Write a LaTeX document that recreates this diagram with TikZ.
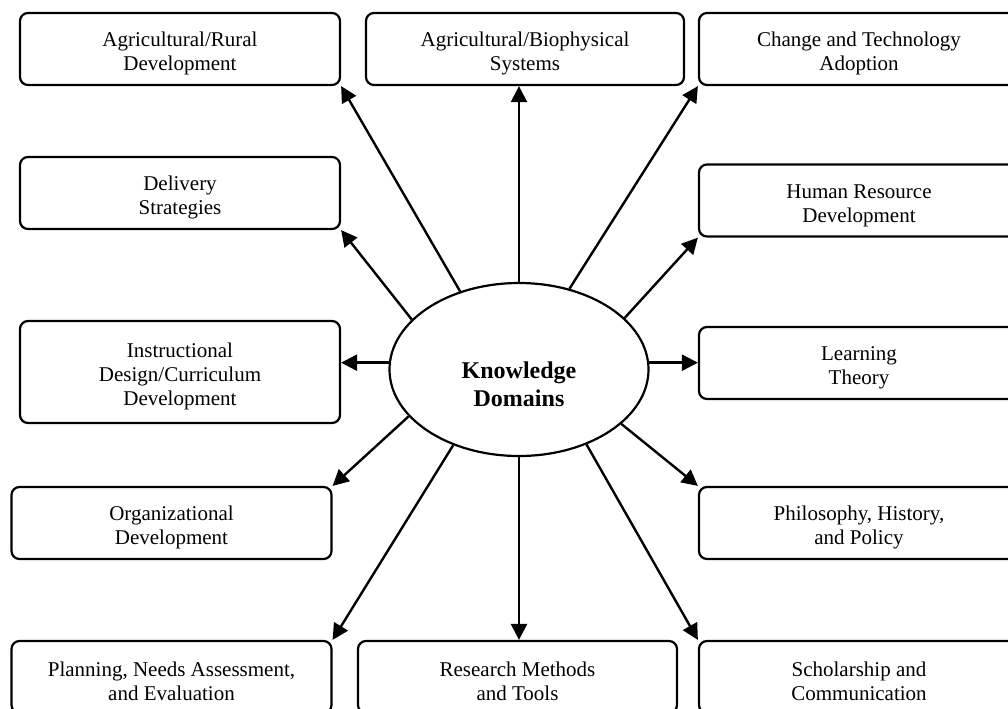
\documentclass[tikz,border=0pt]{standalone}
\usepackage{fontspec}
\setmainfont{Liberation Serif}
\usetikzlibrary{shapes.geometric,arrows.meta}
\newcommand\topgap{\rule{0pt}{12pt}}

\begin{document}
\begin{tikzpicture}
[x=0.5pt,y=-0.5pt,
 areabox/.style={draw,line width=1.1pt,rounded corners=4pt,minimum width=160pt,minimum height=36pt,inner sep=0pt,align=center,
   font=\fontsize{10.5}{12}\selectfont},
 hubnode/.style={draw,line width=1.1pt,ellipse,minimum width=129.5pt,minimum height=86.5pt,inner sep=0pt},
 spoke/.style={line width=1.2pt,-{Triangle[length=8pt,width=8pt]}}]
\useasboundingbox (0,0) rectangle (1008,708);

\node [hubnode] (kd) at (519,369.5) {};
\node [font=\fontsize{12}{14}\selectfont\bfseries,align=center] (kdtext) at (519,384) {Knowledge\\Domains};

% left column
\node [areabox] (rural) at (180,49) {\topgap Agricultural/Rural\\Development};
\node [areabox] (delivery) at (180,193) {\topgap Delivery\\Strategies};
\node [areabox,minimum height=51pt] (instr) at (180,372) {\topgap Instructional\\Design/Curriculum\\Development};
\node [areabox] (org) at (171.5,523) {\topgap Organizational\\Development};
\node [areabox] (plan) at (171.5,677) {\topgap Planning, Needs Assessment,\\and Evaluation};

% middle
\node [areabox,minimum width=159pt] (bio) at (525,49) {\topgap Agricultural/Biophysical\\Systems};
\node [areabox,minimum width=159.5pt] (res) at (517.5,677) {\topgap Research Methods\\and Tools};

% right column
\node [areabox] (change) at (859,49) {\topgap Change and Technology\\Adoption};
\node [areabox] (human) at (859,200.5) {\topgap Human Resource\\Development};
\node [areabox] (learn) at (859,363) {\topgap Learning\\Theory};
\node [areabox] (phil) at (859,523) {\topgap Philosophy, History,\\and Policy};
\node [areabox] (schol) at (859,677) {\topgap Scholarship and\\Communication};

\foreach \ang/\tgt in {127/rural.south east, 58/change.south west, 155/delivery.south east, 26/human.south west,
                       203/org.north east, 332/phil.north west, 229/plan.north east, 312/schol.north west}
  \draw [spoke] (kd.\ang) -- (\tgt);

\draw [spoke] (kd.north) -- (kd.north |- bio.south);
\draw [spoke] (kd.south) -- (kd.south |- res.north);
\draw [spoke] (kd.177) -- (kd.177 -| instr.east);
\draw [spoke] (kd.3) -- (kd.3 -| learn.west);
\end{tikzpicture}
\end{document}
